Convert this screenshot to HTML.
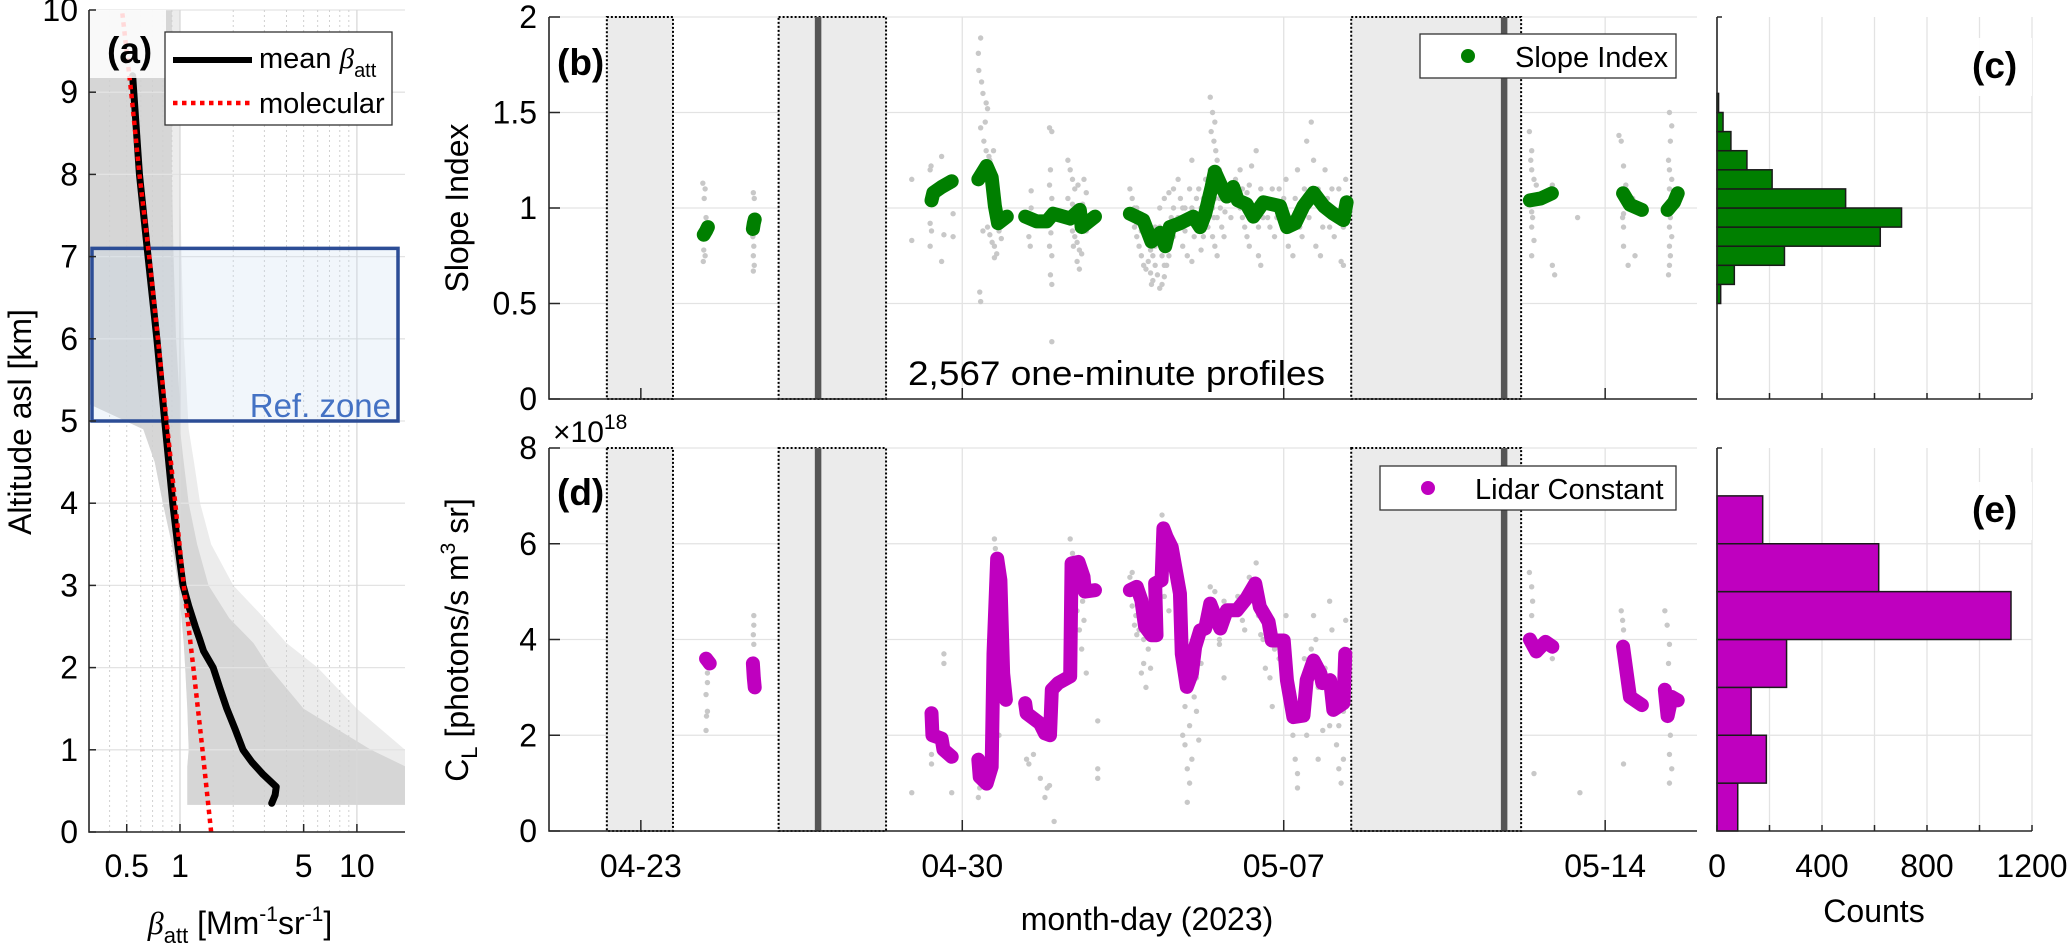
<!DOCTYPE html>
<html><head><meta charset="utf-8"><style>
html,body{margin:0;padding:0;background:#fff}
svg{display:block;font-family:"Liberation Sans",sans-serif}
</style></head><body>
<svg id="fig" width="2067" height="950" viewBox="0 0 2067 950" xmlns="http://www.w3.org/2000/svg">
<g id="gA"></g>
<g id="gB"></g>
<g id="gC"></g>
<g id="gD"></g>
<g id="gE"></g>
<g id="gT">
<text x="31" y="422" font-size="32" fill="#000" text-anchor="middle" transform="rotate(-90 31 422)">Altitude asl [km]</text>
<text x="240" y="934" font-size="32" text-anchor="middle"><tspan font-style="italic" font-family="Liberation Serif">β</tspan><tspan font-size="22" dy="9">att</tspan><tspan dy="-9"> [Mm</tspan><tspan font-size="21" dy="-13">-1</tspan><tspan dy="13">sr</tspan><tspan font-size="21" dy="-13">-1</tspan><tspan dy="13">]</tspan></text>
<text x="468" y="208" font-size="32" text-anchor="middle" transform="rotate(-90 468 208)">Slope Index</text>
<text x="468" y="640" font-size="32" text-anchor="middle" transform="rotate(-90 468 640)">C<tspan font-size="22" dy="9">L</tspan><tspan dy="-9"> [photons/s m</tspan><tspan font-size="21" dy="-13">3</tspan><tspan dy="13"> sr]</tspan></text>
<text x="1147" y="930" font-size="32" text-anchor="middle">month-day (2023)</text>
<text x="1874" y="922" font-size="32" text-anchor="middle">Counts</text>
<text x="553" y="442" font-size="30">×10<tspan font-size="21" dy="-13">18</tspan></text>
<text x="908" y="385" font-size="34" textLength="417" lengthAdjust="spacingAndGlyphs">2,567 one-minute profiles</text>
</g>
</svg>
<script>
// ---------- DATA ----------
const meanAlt = [0.35,0.45,0.55,0.7,0.85,1.0,1.25,1.5,1.75,2.0,2.2,2.35,2.5,2.75,3.0,3.5,4.0,5.0,6.0,7.0,8.0,9.2];
const meanBeta = [3.3,3.45,3.5,2.95,2.55,2.27,2.05,1.84,1.68,1.54,1.36,1.29,1.22,1.12,1.04,0.97,0.91,0.82,0.74,0.66,0.59,0.54];
const molAlt = [0,1,2,3,4,5,6,7,8,9,10];
const molBeta = [1.50,1.34,1.19,1.05,0.94,0.84,0.75,0.67,0.59,0.53,0.47];
const envAlt = [0.33,0.5,0.8,1,1.5,2,2.3,2.6,3,3.5,4,4.5,4.9,5.2,6,7,8,9,10];
const envLeft = [1.1,1.1,1.1,1.12,1.1,1.07,1.05,1.02,0.98,0.9,0.8,0.72,0.62,0.31,0.31,0.31,0.31,0.31,0.31];
const envRight = [18.7,18.7,18.7,12,5,3.2,2.6,1.9,1.45,1.25,1.12,1.05,1.0,1.0,0.95,0.92,0.9,0.9,0.9];
const envRight2 = [18.7,18.7,18.7,18.7,10,6,4,3.0,2.0,1.5,1.3,1.2,1.12,1.1,1.05,1.02,1.0,1.0,1.0];
const aYTicks = [0,1,2,3,4,5,6,7,8,9,10];
const aXTicks = [0.5,1,5,10];
const aXTickLabels = ["0.5","1","5","10"];
const refZone = [5.0,7.1];
const tTicks = [0,7,14,21];
const tTickLabels = ["04-23","04-30","05-07","05-14"];
const gapBoxes = [[-0.74,0.70],[3.0,5.34],[15.47,19.17]];
const gapLines = [3.86,18.8];
const slopeDays = [1.37,1.42,1.46,2.44,2.46,2.48,5.91,6.33,6.37,6.55,6.77,7.35,7.53,7.64,7.71,7.78,7.97,8.37,8.62,8.84,8.98,9.13,9.35,9.56,9.6,9.89,10.65,10.94,11.12,11.31,11.42,11.52,11.74,12.03,12.18,12.29,12.43,12.5,12.65,12.76,12.9,13.0,13.19,13.34,13.56,13.74,13.92,14.07,14.25,14.43,14.65,14.87,15.08,15.3,15.37,19.36,19.6,19.84,20.42,21.39,21.54,21.8,22.36,22.5,22.58];
const slopeVals = [0.86,0.88,0.9,0.89,0.92,0.94,1.03,1.04,1.08,1.11,1.14,1.15,1.22,1.16,1.01,0.92,0.955,0.955,0.93,0.93,0.97,0.96,0.945,0.99,0.90,0.955,0.97,0.937,0.824,0.87,0.8,0.90,0.92,0.955,0.90,0.97,1.11,1.19,1.11,1.06,1.11,1.04,1.02,0.955,1.03,1.02,1.01,0.90,0.92,1.01,1.08,1.01,0.97,0.937,1.03,1.04,1.05,1.077,1.085,1.077,1.017,0.99,0.99,1.03,1.077];
const grayB = [[1.35,1.13],[1.4,1.1],[1.38,1.05],[1.42,0.95],[1.37,0.78],[1.4,0.75],[1.36,0.72],
[2.45,1.08],[2.47,1.05],[2.44,0.85],[2.46,0.8],[2.45,0.75],[2.47,0.7],[2.45,0.67],
[5.9,1.15],[5.9,0.83],[6.3,1.2],[6.32,1.22],[6.3,0.92],[6.33,0.88],[6.3,0.8],[6.55,1.27],[6.55,0.72],[6.6,0.86],[6.8,0.97],[6.8,0.85],
[7.4,1.89],[7.35,1.81],[7.36,1.72],[7.42,1.66],[7.45,1.6],[7.52,1.55],[7.55,1.52],[7.5,1.45],[7.4,1.42],[7.47,1.35],[7.52,1.3],[7.58,1.27],[7.6,1.25],[7.55,0.9],[7.6,0.86],[7.65,0.82],[7.7,0.8],[7.75,0.76],[7.7,0.74],[7.4,0.51],[7.38,0.56],[7.45,0.88],
[8.5,1.09],[8.5,1.0],[8.45,0.85],[8.48,0.8],[8.9,1.42],[8.95,1.40],[8.92,1.2],[8.9,1.12],[8.95,1.05],[8.9,0.92],[8.93,0.87],[8.9,0.8],[8.95,0.75],[8.92,0.65],[8.95,0.6],[8.95,0.3],
[9.3,1.25],[9.35,1.2],[9.4,1.15],[9.45,1.1],[9.3,1.05],[9.5,1.0],[9.55,0.98],[9.35,0.92],[9.4,0.88],[9.45,0.85],[9.5,0.82],[9.55,0.78],[9.6,0.76],[9.5,0.72],[9.55,0.68],[9.7,1.08],[9.7,0.88],[9.65,1.15],
[10.65,1.1],[10.7,1.05],[10.75,0.9],[10.8,0.85],[10.85,0.8],[10.9,0.75],[10.95,0.7],[11.0,0.68],[11.05,0.72],[11.1,0.66],[11.12,0.6],[11.15,0.62],[11.2,0.7],[11.25,0.65],[11.3,0.58],[11.35,0.6],[11.4,0.64],[11.45,0.7],[11.5,0.75],[11.3,1.0],[11.4,1.05],[11.5,1.08],[11.6,1.1],[11.7,1.15],[11.8,0.8],[11.9,0.75],[12.0,0.72],[11.2,0.9],[11.0,0.95],[10.8,1.0],[11.6,0.85],[11.85,1.0],[12.0,1.25],[12.1,1.05],[12.2,0.78],[12.25,0.85],
[12.4,1.58],[12.45,1.5],[12.5,1.45],[12.42,1.4],[12.48,1.35],[12.52,1.3],[12.55,1.25],[12.45,0.85],[12.5,0.8],[12.55,0.75],[12.6,1.2],[12.65,0.9],[12.7,0.85],
[12.95,1.15],[13.05,1.2],[13.1,1.1],[13.15,0.9],[13.2,0.85],[13.25,0.8],[13.3,1.22],[13.4,1.3],[13.45,0.75],[13.5,0.7],[13.55,0.95],[13.6,1.05],[13.7,0.9],[13.8,0.85],[13.9,1.1],[14.05,1.15],[14.1,0.8],[14.2,0.75],[14.3,1.2],[14.4,0.85],[14.5,1.35],[14.6,1.45],[14.65,1.25],[14.7,0.8],[14.8,0.75],[14.9,1.2],[15.0,0.9],[15.1,0.85],[15.2,1.1],[15.25,0.72],[15.3,0.7],[15.35,1.15],
[19.35,1.4],[19.4,1.3],[19.38,1.25],[19.4,1.2],[19.45,1.15],[19.5,1.12],[19.4,0.98],[19.42,0.95],[19.4,0.9],[19.45,0.83],[19.4,0.75],[19.85,1.12],[19.85,0.7],[19.9,0.65],[20.4,0.95],
[21.3,1.38],[21.35,1.35],[21.4,1.22],[21.45,1.12],[21.4,0.97],[21.38,0.95],[21.4,0.9],[21.4,0.8],[21.5,0.7],[21.6,1.05],[21.65,0.75],
[22.4,1.5],[22.45,1.43],[22.42,1.35],[22.38,1.25],[22.4,1.2],[22.45,1.15],[22.4,1.1],[22.42,0.95],[22.4,0.9],[22.45,0.85],[22.4,0.8],[22.42,0.75],[22.4,0.7],[22.38,0.65]];
const grayB2 = [[7.6,1.1],[7.65,1.05],[7.7,1.0],[7.72,0.95],[7.8,0.88],[7.85,0.84],[7.62,1.2],[7.68,1.3],
[9.4,1.02],[9.45,0.95],[9.5,0.9],[9.6,0.95],[9.65,0.9],[9.62,1.02],[9.42,0.8],[9.52,1.12],
[10.7,0.95],[10.75,1.0],[10.8,0.92],[10.85,0.95],[10.9,0.88],[10.95,0.9],[11.0,0.85],[11.05,0.82],[11.1,0.78],[11.15,0.75],[11.2,0.8],[11.25,0.85],[11.3,0.9],[11.35,0.75],[11.4,0.7],[11.45,0.82],[11.5,0.88],[11.55,0.95],[11.6,1.0],[11.65,0.9],[11.7,0.95],[11.75,1.05],[11.8,1.0],[11.85,0.88],[11.9,0.95],[11.95,1.1],[12.0,1.0],[12.05,0.85],[12.1,0.95],[12.15,1.1],[12.2,1.0],[12.25,1.05],[12.3,1.15],[12.35,0.9],
[12.4,1.2],[12.42,1.1],[12.45,1.0],[12.48,0.95],[12.5,1.05],[12.52,1.15],[12.55,0.95],[12.6,1.05],[12.62,1.0],[12.68,1.12],[12.72,0.98],[12.8,1.05],[12.85,0.95],
[13.05,1.0],[13.1,0.95],[13.2,1.08],[13.25,1.12],[13.35,1.0],[13.45,0.9],[13.5,1.1],[13.65,0.95],[13.75,1.1],[13.85,0.95],[13.95,0.92],[14.0,1.05],[14.15,0.95],[14.25,1.05],[14.35,0.9],[14.45,1.1],[14.55,0.95],[14.75,1.1],[14.85,0.9],[14.95,1.05],[15.05,1.1],[15.15,0.95],[15.3,0.9]];
const bYTicks = [0,0.5,1,1.5,2];
const bYTickLabels = ["0","0.5","1","1.5","2"];
const lcDays = [1.42,1.46,1.5,2.44,2.46,2.48,5.91,6.33,6.35,6.55,6.59,6.77,7.35,7.38,7.53,7.64,7.68,7.76,7.83,7.89,7.95,8.37,8.4,8.69,8.8,8.91,8.95,9.09,9.35,9.38,9.53,9.64,9.67,9.89,10.65,10.8,10.9,10.98,11.12,11.23,11.2,11.34,11.38,11.45,11.56,11.74,11.78,11.89,12.0,12.07,12.18,12.29,12.4,12.54,12.62,12.76,12.98,13.19,13.38,13.48,13.67,13.74,14.0,14.07,14.21,14.43,14.5,14.65,14.8,14.84,15.01,15.08,15.3,15.34,19.36,19.5,19.7,19.85,20.45,21.39,21.54,21.8,22.3,22.36,22.45,22.58];
const lcVals = [3.6,3.55,3.5,3.5,3.2,3.0,2.56,2.46,2.0,1.93,1.7,1.55,1.49,1.13,0.99,1.34,3.7,5.69,5.24,3.29,2.74,2.67,2.46,2.25,2.04,2.0,2.95,3.09,3.23,5.59,5.62,5.31,5.0,5.03,5.03,5.1,4.82,4.27,4.09,4.09,5.17,5.24,6.32,6.14,5.93,4.96,3.7,3.01,3.29,3.84,4.19,4.23,4.75,4.4,4.23,4.61,4.61,4.86,5.17,4.68,4.37,3.98,3.98,3.15,2.38,2.41,3.15,3.56,3.29,3.09,3.15,2.53,2.67,3.7,4.0,3.75,3.95,3.85,3.92,3.85,2.8,2.63,2.95,2.4,2.8,2.73];
const grayD = [[1.45,3.3],[1.45,3.1],[1.42,2.85],[1.45,2.5],[1.43,2.4],[1.42,2.1],[2.46,4.5],[2.46,4.3],[2.45,4.1],[2.46,3.9],
[5.9,0.8],[6.33,1.6],[6.33,1.4],[6.6,3.7],[6.6,3.5],[6.77,0.8],
[7.35,0.7],[7.38,0.9],[7.42,1.0],[7.7,6.1],[7.72,5.9],[7.75,2.5],[7.8,2.0],
[8.4,1.5],[8.45,1.4],[8.55,1.6],[8.7,1.1],[8.8,0.7],[8.85,0.9],[8.9,0.95],[9.0,0.2],[9.35,6.1],[9.4,5.8],[9.45,5.6],[9.6,5.1],[9.65,4.4],[9.7,3.3],[9.95,2.3],[9.95,1.3],[9.95,1.1],
[10.65,5.3],[10.7,5.4],[10.75,4.3],[10.8,4.1],[10.9,3.3],[10.95,3.5],[11.0,3.0],[11.1,3.4],[11.2,4.5],[11.35,6.6],[11.4,4.9],[11.5,4.6],[11.8,2.0],[11.85,1.8],[11.9,1.3],[11.95,1.0],[11.9,0.6],[12.0,1.5],[12.05,2.8],[12.1,2.5],[12.15,1.9],[12.2,3.5],[12.3,4.6],[12.4,5.1],[12.5,5.0],[12.6,3.9],[12.7,3.2],
[13.0,4.9],[13.1,4.4],[13.15,4.2],[13.25,5.3],[13.4,5.6],[13.5,4.1],[13.6,3.4],[13.7,3.2],[13.75,2.6],[14.05,4.5],[14.1,3.9],[14.15,2.8],[14.2,2.0],[14.25,1.5],[14.3,1.2],[14.3,0.9],[14.45,3.6],[14.5,2.0],[14.65,4.5],[14.7,4.0],[14.75,1.5],[14.8,3.3],[14.85,2.1],[15.0,4.8],[15.05,4.2],[15.1,3.1],[15.15,1.8],[15.2,1.3],[15.25,1.0],[15.3,1.5],[15.35,4.4],[15.3,3.2],
[19.35,5.4],[19.4,5.1],[19.42,4.8],[19.4,4.5],[19.45,1.2],[19.85,3.6],[20.45,0.8],
[21.35,4.6],[21.38,4.4],[21.4,4.2],[21.45,3.4],[21.4,1.4],[22.3,4.6],[22.35,4.3],[22.4,3.9],[22.38,3.5],[22.42,2.0],[22.4,1.6],[22.45,1.3],[22.4,1.0]];
const grayD2 = [[7.7,5.4],[7.72,5.0],[7.75,4.6],[7.8,4.0],[7.82,3.6],[7.85,3.0],[9.4,5.3],[9.45,4.9],[9.5,4.6],[9.55,4.2],[9.6,3.8],[9.62,4.8],
[10.7,4.7],[10.72,5.0],[10.78,4.5],[10.85,4.2],[10.95,4.0],[11.05,3.8],[11.1,4.0],[11.3,5.6],[11.32,5.9],[11.4,6.4],[11.5,5.6],[11.6,5.2],[11.7,4.4],[11.8,3.2],[11.85,2.6],[11.95,2.2],[12.1,3.2],[12.2,4.0],[12.25,4.4],[12.35,4.8],[12.45,4.5],[12.55,4.6],[12.6,4.0],[12.7,4.8],
[13.05,4.6],[13.15,4.9],[13.3,5.0],[13.45,4.5],[13.55,4.0],[13.65,4.2],[13.8,3.8],[13.9,3.6],[14.1,2.9],[14.25,2.6],[14.4,2.8],[14.55,3.2],[14.6,3.8],[14.75,3.0],[14.9,3.4],[15.0,2.2],[15.1,2.6],[15.2,2.2],[15.3,2.5],[15.32,3.8]];
const dYTicks = [0,2,4,6,8];
const dYTickLabels = ["0","2","4","6","8"];
const cBinLow = [0.5,0.6,0.7,0.8,0.9,1.0,1.1,1.2,1.3,1.4,1.5];
const cCounts = [14,66,257,622,703,490,210,114,53,23,6];
const cBinWidth = 0.1;
const eBinLow = [0,1,2,3,4,5,6];
const eCounts = [79,188,130,265,1120,616,174];
const eBinWidth = 1;
const countTicks = [0,200,400,600,800,1000,1200];
const countTickLabels = ["0","","400","","800","","1200"];

// ---------- SCALES ----------
const A = {x0:89,x1:405,y0:832,y1:10,lmin:Math.log10(0.306),lmax:Math.log10(18.7),zmax:10};
const xA = v => A.x0 + (Math.log10(v)-A.lmin)/(A.lmax-A.lmin)*(A.x1-A.x0);
const yA = z => A.y0 - z/A.zmax*(A.y0-A.y1);
const T = {x0:549,x1:1697,d0:-2,d1:23};
const xT = d => T.x0 + (d-T.d0)/(T.d1-T.d0)*(T.x1-T.x0);
const B = {y0:399,y1:17,max:2};
const yB = v => B.y0 - v/B.max*(B.y0-B.y1);
const D = {y0:831,y1:448,max:8};
const yD = v => D.y0 - v/D.max*(D.y0-D.y1);
const H = {x0:1717,x1:2032,max:1200};
const xH = c => H.x0 + c/H.max*(H.x1-H.x0);

const NS = "http://www.w3.org/2000/svg";
function mk(parent, tag, attrs){ const e=document.createElementNS(NS,tag); for(const k in attrs) e.setAttribute(k,attrs[k]); parent.appendChild(e); return e; }
const AX = "#262626", GRID = "#e3e3e3";
const TF = 32;

// ---------- PANEL A ----------
(function(){
  const g = document.getElementById('gA');
  let pts2 = envAlt.map((z,i)=>xA(envLeft[i])+","+yA(z)).concat(envAlt.slice().reverse().map((z,i)=>xA(envRight2[envAlt.length-1-i])+","+yA(z)));
  let env2 = mk(g,'polygon',{points:pts2.join(' '),fill:'#ececec'});
  
  
  let pts = envAlt.map((z,i)=>xA(envLeft[i])+","+yA(z)).concat(envAlt.slice().reverse().map((z,i)=>xA(envRight[envAlt.length-1-i])+","+yA(z)));
  let env = mk(g,'polygon',{points:pts.join(' '),fill:'#d6d6d6'});
  
  
  aYTicks.forEach(z=>{ const l=mk(g,'line',{x1:A.x0,x2:A.x1,y1:yA(z),y2:yA(z),stroke:GRID,'stroke-width':1.3});
      });
  [0.4,0.5,0.6,0.7,0.8,0.9,2,3,4,5,6,7,8,9].forEach(v=>{ const l=mk(g,'line',{x1:xA(v),x2:xA(v),y1:A.y0,y2:A.y1,stroke:'#d0d0d0','stroke-width':1,'stroke-dasharray':'2,3'});
      });
  [1,10].forEach(v=>{ const l=mk(g,'line',{x1:xA(v),x2:xA(v),y1:A.y0,y2:A.y1,stroke:'#d8d8d8','stroke-width':1.3});
      });
  const rz = mk(g,'rect',{x:xA(0.306)+3,y:yA(refZone[1]),width:398-xA(0.306)-3,height:yA(refZone[0])-yA(refZone[1]),fill:'rgba(200,220,240,0.25)',stroke:'#2c4d96','stroke-width':3.5});
   
  const rt = mk(g,'text',{x:391,y:417,'font-size':33,fill:'#4472c4','text-anchor':'end'}); rt.textContent='Ref. zone';
   
  const mp = mk(g,'polyline',{points:meanAlt.map((z,i)=>xA(meanBeta[i])+","+yA(z)).join(' '),fill:'none',stroke:'#000','stroke-width':7,'stroke-linejoin':'round','stroke-linecap':'round'});
   
  const rp = mk(g,'polyline',{points:molAlt.map((z,i)=>xA(molBeta[i])+","+yA(z)).join(' '),fill:'none',stroke:'#ff0000','stroke-width':4.5,'stroke-dasharray':'4.5,4.5'});
   
  const wb = mk(g,'rect',{x:A.x0+1,y:A.y1,width:76,height:68,fill:'rgba(255,255,255,0.85)'});
   
  const lab = mk(g,'text',{x:107,y:63,'font-size':37,'font-weight':'bold'}); lab.textContent='(a)';
   
  const ax = mk(g,'path',{d:`M${A.x0},${A.y1} V${A.y0} H${A.x1}`,fill:'none',stroke:AX,'stroke-width':1.6});
   
  aYTicks.forEach(z=>{ mk(g,'line',{x1:A.x0,x2:A.x0+7,y1:yA(z),y2:yA(z),stroke:AX,'stroke-width':1.5});
    const t=mk(g,'text',{x:78,y:yA(z)+11,'font-size':TF,'text-anchor':'end'}); t.textContent=z;
      });
  aXTicks.forEach((v,i)=>{ mk(g,'line',{x1:xA(v),x2:xA(v),y1:A.y0,y2:A.y0-8,stroke:AX,'stroke-width':1.5});
    const t=mk(g,'text',{x:xA(v),y:877,'font-size':TF,'text-anchor':'middle'}); t.textContent=aXTickLabels[i];
      });
  const lg = mk(g,'g',{});  
  mk(lg,'rect',{x:165,y:32,width:227,height:93,fill:'#fff',stroke:'#333','stroke-width':1.3});
  mk(lg,'line',{x1:173,x2:252,y1:60,y2:60,stroke:'#000','stroke-width':6});
  const t1=mk(lg,'text',{x:259,y:68,'font-size':29}); t1.innerHTML='mean <tspan font-style="italic" font-family="Liberation Serif">β</tspan><tspan font-size="20" dy="9">att</tspan>';
   
  mk(lg,'line',{x1:173,x2:252,y1:103,y2:103,stroke:'#ff0000','stroke-width':4.5,'stroke-dasharray':'4.5,4.5'});
  const t2=mk(lg,'text',{x:259,y:113,'font-size':29}); t2.textContent='molecular';
   
})();

// ---------- TIME PANELS ----------
function timePanel(gid, yScale, y0, y1, yTicks, yTickLabels, days, vals, gray, color, label, labelY, legendText, legY, legX0){
  const g = document.getElementById(gid);
  yTicks.forEach(v=>{ const l=mk(g,'line',{x1:T.x0,x2:T.x1,y1:yScale(v),y2:yScale(v),stroke:GRID,'stroke-width':1.3});
      });
  tTicks.forEach(d=>{ const l=mk(g,'line',{x1:xT(d),x2:xT(d),y1:y0,y2:y1,stroke:GRID,'stroke-width':1.3});
      });
  gapBoxes.forEach(b=>{ const r=mk(g,'rect',{x:xT(b[0]),y:y1,width:xT(b[1])-xT(b[0]),height:y0-y1,fill:'#ebebeb',stroke:'#000','stroke-width':2,'stroke-dasharray':'2,2'});
      });
  gapLines.forEach(d=>{ const l=mk(g,'line',{x1:xT(d),x2:xT(d),y1:y1,y2:y0,stroke:'#555','stroke-width':6.5});
      });
  gray.forEach(p=>{ const c=mk(g,'circle',{cx:xT(p[0]),cy:yScale(p[1]),r:2.7,fill:'#c8c8c8'});
      });
  let seg=[];
  const flush=()=>{ if(!seg.length) return;
    const pl=mk(g,'polyline',{points:seg.join(' '),fill:'none',stroke:color,'stroke-width':14,'stroke-linecap':'round','stroke-linejoin':'round'});
      seg=[]; };
  days.forEach((d,i)=>{ if(i>0 && d-days[i-1]>0.3) flush(); seg.push(xT(d)+","+yScale(vals[i])); });
  flush();
  const ax=mk(g,'path',{d:`M${T.x0},${y1} V${y0} H${T.x1}`,fill:'none',stroke:AX,'stroke-width':1.6});
   
  yTicks.forEach((v,i)=>{ mk(g,'line',{x1:T.x0,x2:T.x0+11,y1:yScale(v),y2:yScale(v),stroke:AX,'stroke-width':1.5});
    const t=mk(g,'text',{x:537,y:yScale(v)+11,'font-size':TF,'text-anchor':'end'}); t.textContent=yTickLabels[i];
      });
  tTicks.forEach(d=>{ mk(g,'line',{x1:xT(d),x2:xT(d),y1:y0,y2:y0-11,stroke:AX,'stroke-width':1.5}); });
  const lab=mk(g,'text',{x:557,y:labelY,'font-size':37,'font-weight':'bold'}); lab.textContent=label;
   
  const lg=mk(g,'g',{});  
  mk(lg,'rect',{x:legX0,y:legY,width:1676-legX0,height:44,fill:'#fff',stroke:'#333','stroke-width':1.3});
  mk(lg,'circle',{cx:legX0+48,cy:legY+22,r:7,fill:color});
  const lt=mk(lg,'text',{x:legX0+95,y:legY+33,'font-size':29}); lt.textContent=legendText;
   
}
timePanel('gB', yB, B.y0, B.y1, bYTicks, bYTickLabels, slopeDays, slopeVals, grayB.concat(grayB2), '#007f00', '(b)', 75, 'Slope Index', 34, 1420);
timePanel('gD', yD, D.y0, D.y1, dYTicks, dYTickLabels, lcDays, lcVals, grayD.concat(grayD2), '#bf00bf', '(d)', 505, 'Lidar Constant', 466, 1380);
(function(){
  const g=document.getElementById('gD');
  tTicks.forEach((d,i)=>{ const t=mk(g,'text',{x:xT(d),y:877,'font-size':TF,'text-anchor':'middle'}); t.textContent=tTickLabels[i];
      });
})();

// ---------- HISTOGRAMS ----------
function hist(gid, yScale, y0, y1, gridY, lows, counts, w, color, label, labY, showX){
  const g=document.getElementById(gid);
  gridY.forEach(v=>{ const l=mk(g,'line',{x1:H.x0,x2:H.x1,y1:yScale(v),y2:yScale(v),stroke:GRID,'stroke-width':1.3});
      });
  countTicks.forEach(c=>{ const l=mk(g,'line',{x1:xH(c),x2:xH(c),y1:y0,y2:y1,stroke:GRID,'stroke-width':1.3});
      });
  mk(g,'rect',{x:1955,y:labY-40,width:77,height:58,fill:'rgba(255,255,255,0.9)'});
  const lab=mk(g,'text',{x:1972,y:labY,'font-size':37,'font-weight':'bold'}); lab.textContent=label;
   
  lows.forEach((lo,i)=>{ const r=mk(g,'rect',{x:H.x0,y:yScale(lo+w),width:xH(counts[i])-H.x0,height:yScale(lo)-yScale(lo+w),fill:color,stroke:'#1a1a1a','stroke-width':1.5});
      });
  const ax=mk(g,'path',{d:`M${H.x0},${y1} V${y0} H${H.x1}`,fill:'none',stroke:AX,'stroke-width':1.6});
   
  mk(g,'line',{x1:H.x0,x2:H.x0+5,y1:y1,y2:y1,stroke:AX,'stroke-width':1.5});
  countTicks.forEach((c,i)=>{ mk(g,'line',{x1:xH(c),x2:xH(c),y1:y0,y2:y0-6,stroke:AX,'stroke-width':1.5});
    if(showX && countTickLabels[i]){ const t=mk(g,'text',{x:xH(c),y:877,'font-size':TF,'text-anchor':'middle'}); t.textContent=countTickLabels[i];
        } });
}
hist('gC', yB, B.y0, B.y1, [0.5,1,1.5], cBinLow, cCounts, cBinWidth, '#007f00', '(c)', 78, false);
hist('gE', yD, D.y0, D.y1, [2,4,6], eBinLow, eCounts, eBinWidth, '#bf00bf', '(e)', 522, true);
</script>
</body></html>
